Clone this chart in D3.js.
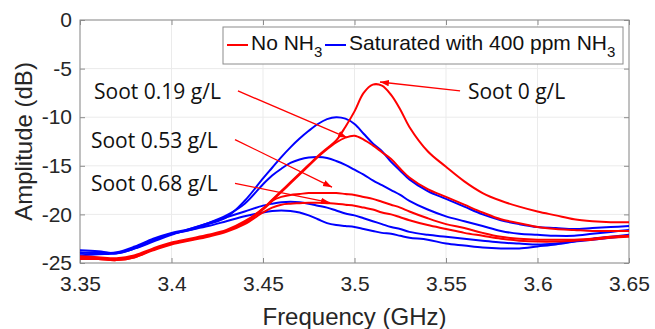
<!DOCTYPE html>
<html>
<head>
<meta charset="utf-8">
<script src="https://cdn.jsdelivr.net/npm/d3@7"></script>
<style>
  body { margin: 0; background: #fff; }
  svg { display: block; }
  .tick text { font-family: "Liberation Sans", Arial, sans-serif; font-size: 21px; fill: #262626; }
  .tick line { stroke: #8c8c8c; }
</style>
</head>
<body>
<div class="chart"></div>
<script>
// frequency samples (GHz), shared by all traces
const freq = [3.35, 3.36, 3.37, 3.38, 3.39, 3.40, 3.41, 3.42, 3.43, 3.44,
  3.45, 3.455, 3.46, 3.465, 3.47, 3.475, 3.48, 3.485, 3.49, 3.495, 3.50, 3.505, 3.51, 3.515, 3.52, 3.525, 3.53,
  3.54, 3.55, 3.56, 3.57, 3.58, 3.59, 3.60, 3.61, 3.62, 3.63, 3.64, 3.65];

// No NH3 (red)
const noNH3_soot0 = [-24.3, -24.4, -24.5, -24.2, -23.5, -22.9, -22.5, -22.1, -21.6, -20.7,
  -19.4, -18.5, -17.6, -16.7, -15.8, -14.9, -14.0, -13.2, -12.4, -11.0, -9.4, -7.5, -6.65, -6.75, -7.7, -9.2, -11.0,
  -13.5, -15.1, -16.6, -17.8, -18.6, -19.2, -19.7, -20.1, -20.5, -20.7, -20.8, -20.8];
const noNH3_soot019 = [-24.4, -24.5, -24.6, -24.3, -23.6, -23.0, -22.6, -22.2, -21.7, -20.8,
  -19.5, -18.6, -17.7, -16.8, -15.9, -15.0, -14.1, -13.3, -12.6, -12.1, -11.9, -12.3, -12.9, -13.6, -14.3, -15.3, -16.2,
  -17.4, -18.2, -19.0, -19.8, -20.5, -20.9, -21.3, -21.5, -21.6, -21.7, -21.7, -21.7];
const noNH3_soot053 = [-24.5, -24.6, -24.7, -24.4, -23.6, -23.0, -22.6, -22.2, -21.7, -20.9,
  -19.4, -18.6, -18.2, -18.0, -17.9, -17.8, -17.8, -17.8, -17.8, -17.9, -18.0, -18.2, -18.4, -18.7, -19.0, -19.3, -19.7,
  -20.4, -21.0, -21.4, -21.9, -22.3, -22.5, -22.6, -22.6, -22.6, -22.5, -22.3, -22.2];
const noNH3_soot068 = [-24.6, -24.6, -24.7, -24.4, -23.7, -23.1, -22.7, -22.3, -21.8, -21.0,
  -19.8, -19.3, -19.0, -18.9, -18.85, -18.8, -18.8, -18.85, -18.9, -19.0, -19.1, -19.3, -19.5, -19.8, -20.0, -20.3, -20.6,
  -21.1, -21.5, -21.9, -22.2, -22.5, -22.7, -22.8, -22.8, -22.7, -22.6, -22.4, -22.3];

// Saturated with 400 ppm NH3 (blue)
const nh3_soot0 = [-24.2, -24.1, -24.0, -23.4, -22.6, -22.0, -21.6, -21.0, -20.3, -18.6,
  -16.3, -15.2, -14.1, -13.1, -12.2, -11.4, -10.7, -10.2, -10.0, -10.15, -10.7, -11.7, -12.7, -13.5, -14.6, -15.5, -16.4,
  -17.6, -18.4, -19.2, -20.0, -20.6, -21.0, -21.3, -21.4, -21.5, -21.4, -21.3, -21.2];
const nh3_soot019 = [-23.9, -24.0, -23.9, -23.3, -22.5, -21.9, -21.5, -20.9, -20.1, -18.9,
  -16.9, -16.0, -15.3, -14.7, -14.35, -14.15, -14.1, -14.2, -14.5, -14.9, -15.4, -15.9, -16.5, -17.0, -17.5, -18.0, -18.6,
  -19.5, -20.2, -20.7, -21.2, -21.7, -22.0, -22.1, -22.2, -22.2, -22.0, -21.8, -21.6];
const nh3_soot053 = [-24.0, -23.9, -24.0, -23.5, -22.8, -22.1, -21.5, -20.9, -20.3, -19.7,
  -19.1, -18.9, -18.75, -18.7, -18.75, -18.9, -19.1, -19.3, -19.6, -19.9, -20.1, -20.4, -20.7, -21.0, -21.3, -21.5, -21.8,
  -22.1, -22.3, -22.5, -22.7, -22.9, -23.0, -23.1, -23.0, -22.8, -22.6, -22.4, -22.2];
const nh3_soot068 = [-23.7, -23.8, -24.0, -23.5, -22.7, -22.0, -21.6, -21.2, -20.7, -20.2,
  -19.8, -19.65, -19.6, -19.65, -19.8, -20.1, -20.5, -20.9, -21.1, -21.2, -21.3, -21.5, -21.7, -21.9, -22.0, -22.2, -22.4,
  -22.6, -23.0, -23.2, -23.4, -23.5, -23.5, -23.3, -23.1, -22.8, -22.5, -22.3, -22.1];

const xTicks = [3.35, 3.4, 3.45, 3.5, 3.55, 3.6, 3.65];
const yTicks = [-25, -20, -15, -10, -5, 0];

const legendLabels = ['No NH', 'Saturated with 400 ppm NH'];

// text annotations: label, text anchor point, arrow tail -> head (data units)
const notes = [
  { text: 'Soot 0 g/L',    at: [3.562, -8.13],  from: [3.5577, -7.3],  to: [3.5139, -6.38] },
  { text: 'Soot 0.19 g/L', at: [3.3577, -8.13], from: [3.4363, -7.3],  to: [3.4959, -12.1] },
  { text: 'Soot 0.53 g/L', at: [3.356, -13.17], from: [3.4347, -12.3], to: [3.4877, -17.2] },
  { text: 'Soot 0.68 g/L', at: [3.356, -17.6],  from: [3.4347, -16.8], to: [3.4866, -18.8] }
];

const W = 655, H = 329;
const margin = { top: 20, right: 26, bottom: 66, left: 80 };
const width = W - margin.left - margin.right;
const height = H - margin.top - margin.bottom;

const red = '#ff0000', blue = '#0000ff';

const svg = d3.select('.chart').append('svg')
  .attr('width', W)
  .attr('height', H);

const g = svg.append('g')
  .attr('transform', `translate(${margin.left},${margin.top})`);

const x = d3.scaleLinear().domain([3.35, 3.65]).range([0, width]);
const y = d3.scaleLinear().domain([-25, 0]).range([height, 0]);

/* grid */
g.append('g').selectAll('line')
  .data(xTicks).enter().append('line')
  .attr('x1', d => x(d)).attr('x2', d => x(d))
  .attr('y1', 0).attr('y2', height)
  .attr('stroke', '#ebebeb').attr('stroke-width', 1);
g.append('g').selectAll('line')
  .data(yTicks).enter().append('line')
  .attr('y1', d => y(d)).attr('y2', d => y(d))
  .attr('x1', 0).attr('x2', width)
  .attr('stroke', '#ebebeb').attr('stroke-width', 1);

/* axes, ticks pointing inward like MATLAB */
const xAxis = g.append('g')
  .attr('transform', `translate(0,${height})`)
  .call(d3.axisBottom(x).tickValues(xTicks).tickSize(-5).tickPadding(13).tickFormat(d => String(d)));
const xTop = g.append('g')
  .call(d3.axisTop(x).tickValues(xTicks).tickSize(-5).tickFormat(''));
const yAxis = g.append('g')
  .call(d3.axisLeft(y).tickValues(yTicks).tickSize(-5).tickPadding(8).tickFormat(d => String(d)));
const yRight = g.append('g')
  .attr('transform', `translate(${width},0)`)
  .call(d3.axisRight(y).tickValues(yTicks).tickSize(-5).tickFormat(''));
[xAxis, xTop, yAxis, yRight].forEach(a => a.select('.domain').remove());

g.append('rect')
  .attr('width', width).attr('height', height)
  .attr('fill', 'none').attr('stroke', '#8c8c8c').attr('stroke-width', 1);

/* traces */
const line = d3.line()
  .x((d, i) => x(freq[i]))
  .y(d => y(d))
  .curve(d3.curveCatmullRom.alpha(0.5));

const series = [
  { values: nh3_soot0, color: blue },
  { values: nh3_soot019, color: blue },
  { values: nh3_soot053, color: blue },
  { values: nh3_soot068, color: blue },
  { values: noNH3_soot0, color: red },
  { values: noNH3_soot019, color: red },
  { values: noNH3_soot053, color: red },
  { values: noNH3_soot068, color: red }
];

g.append('g').selectAll('path')
  .data(series).enter().append('path')
  .attr('d', d => line(d.values))
  .attr('fill', 'none')
  .attr('stroke', d => d.color)
  .attr('stroke-width', 2);

/* annotations */
svg.append('defs').append('marker')
  .attr('id', 'head')
  .attr('markerUnits', 'userSpaceOnUse')
  .attr('markerWidth', 10).attr('markerHeight', 8)
  .attr('refX', 9).attr('refY', 4)
  .attr('orient', 'auto')
  .append('path')
  .attr('d', 'M0,0.8 L9,4 L0,7.2 Z')
  .attr('fill', red);

const ann = g.append('g');
ann.selectAll('line')
  .data(notes).enter().append('line')
  .attr('x1', d => x(d.from[0])).attr('y1', d => y(d.from[1]))
  .attr('x2', d => x(d.to[0])).attr('y2', d => y(d.to[1]))
  .attr('stroke', red).attr('stroke-width', 1.3)
  .attr('marker-end', 'url(#head)');
ann.selectAll('text')
  .data(notes).enter().append('text')
  .attr('x', d => x(d.at[0])).attr('y', d => y(d.at[1]))
  .attr('font-family', '"Open Sans", sans-serif')
  .attr('font-size', 21)
  .attr('fill', '#111')
  .text(d => d.text);

/* legend */
const leg = svg.append('g').attr('transform', 'translate(223,27)');
leg.append('rect')
  .attr('width', 400).attr('height', 37)
  .attr('fill', '#fff').attr('stroke', '#8c8c8c').attr('stroke-width', 1);
const legX = [4, 102];
const legColors = [red, blue];
legendLabels.forEach((lab, i) => {
  leg.append('line')
    .attr('x1', legX[i]).attr('x2', legX[i] + 21)
    .attr('y1', 18).attr('y2', 18)
    .attr('stroke', legColors[i]).attr('stroke-width', 2);
  const t = leg.append('text')
    .attr('x', legX[i] + 24).attr('y', 23)
    .attr('font-family', '"Liberation Sans", Arial, sans-serif')
    .attr('font-size', 21)
    .attr('fill', '#111')
    .text(lab);
  t.append('tspan')
    .attr('dy', 7).attr('font-size', 15)
    .text('3');
});

/* axis titles */
svg.append('text')
  .attr('x', margin.left + width / 2).attr('y', 325)
  .attr('text-anchor', 'middle')
  .attr('font-family', '"Liberation Sans", Arial, sans-serif')
  .attr('font-size', 24).attr('fill', '#262626')
  .text('Frequency (GHz)');
svg.append('text')
  .attr('transform', `translate(32,${margin.top + height / 2}) rotate(-90)`)
  .attr('text-anchor', 'middle')
  .attr('font-family', '"Liberation Sans", Arial, sans-serif')
  .attr('font-size', 24).attr('fill', '#262626')
  .text('Amplitude (dB)');
</script>
</body>
</html>
